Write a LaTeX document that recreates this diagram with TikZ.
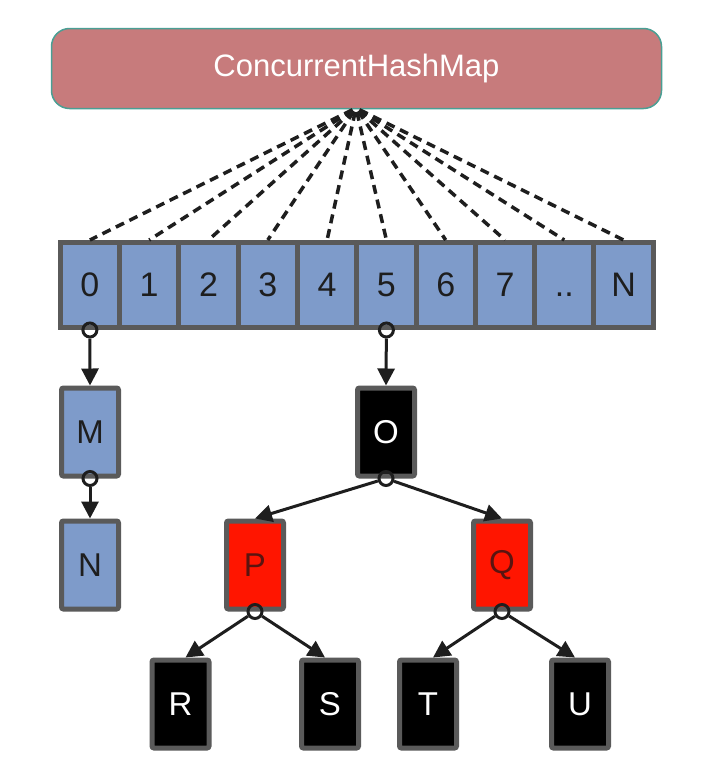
\documentclass[tikz,border=0pt]{standalone}
\usepackage{fontspec}
\setmainfont{Liberation Sans}
\usetikzlibrary{arrows.meta,calc}
\definecolor{mapfill}{HTML}{C77B7C}
\definecolor{mapedge}{HTML}{4A9F94}
\definecolor{cellblue}{HTML}{7E9BCA}
\definecolor{edgegrey}{HTML}{5A5A5A}
\definecolor{inkdark}{HTML}{1E1E1E}
\definecolor{nodered}{HTML}{FF1500}
\definecolor{redtext}{HTML}{5A1410}
\begin{document}
\begin{tikzpicture}[x=1pt,y=-1pt,
  mapbox/.style={draw=mapedge,line width=1.5pt,fill=mapfill,rounded corners=18pt,
    minimum width=610pt,minimum height=80pt,inner sep=0pt,text=white,font=\fontsize{31}{31}\selectfont},
  cellbox/.style={draw=edgegrey,line width=5pt,fill=cellblue,minimum width=59.3pt,minimum height=85pt,
    inner sep=0pt,text=inkdark,font=\fontsize{34}{34}\selectfont},
  entry/.style={draw=edgegrey,line width=5pt,rounded corners=2pt,minimum width=57pt,minimum height=88pt,
    inner sep=0pt,font=\fontsize{33}{33}\selectfont},
  blueentry/.style={entry,fill=cellblue,text=inkdark},
  blackentry/.style={entry,fill=black,text=white},
  redentry/.style={entry,fill=nodered,text=redtext},
  ring/.style={circle,draw=inkdark,line width=3pt,minimum size=14pt,inner sep=0pt},
  arr/.style={draw=inkdark,line width=3pt,-{Triangle[length=17pt,width=17pt]}},
  dashline/.style={draw=inkdark,line width=3.5pt,dash pattern=on 9pt off 6pt,shorten <=4pt}
]
\useasboundingbox (0,0) rectangle (722,779);
\fill[white] (0,0) rectangle (722,779);

\node[mapbox] (map) at (356.5,68.5) {ConcurrentHashMap};
\coordinate (hub) at (356,108);

% array cells
\foreach \i/\lab in {0/0,1/1,2/2,3/3,4/4,5/5,6/6,7/7,8/{\vphantom{0}..},9/N}{
  \node[cellbox] (cell\i) at ({89.9+59.3*\i},285) {\lab};
}
\foreach \i in {0,...,9}{
  \draw[dashline] (hub) -- (cell\i.north);
}

% chain from bucket 0
\node[blueentry] (M) at (90,432) {M};
\node[blueentry] (N) at (90,565) {N};
% tree from bucket 5
\node[blackentry] (O) at (386,432) {O};
\node[redentry] (P) at (255,565) {P};
\node[redentry] (Q) at (502,565) {Q};
\node[blackentry] (R) at (180.5,704) {R};
\node[blackentry] (S) at (330,704) {S};
\node[blackentry] (T) at (428,704) {T};
\node[blackentry] (U) at (580,704) {U};

\node[ring] (r0) at (cell0.south) {};
\node[ring] (r5) at (cell5.south) {};
\node[ring] (rM) at (M.south) {};
\node[ring] (rO) at (O.south) {};
\node[ring] (rP) at (P.south) {};
\node[ring] (rQ) at (Q.south) {};

\draw[arr] (r0) -- (M.north);
\draw[arr] (rM) -- (N.north);
\draw[arr] (r5) -- (O.north);
\draw[arr] (rO) -- (P.north);
\draw[arr] (rO) -- (Q.north);
\draw[arr] (rP) -- ($(R.north)+(5,0)$);
\draw[arr] (rP) -- ($(S.north)+(-5,0)$);
\draw[arr] (rQ) -- ($(T.north)+(5,0)$);
\draw[arr] (rQ) -- ($(U.north)+(-5,0)$);
\end{tikzpicture}
\end{document}
